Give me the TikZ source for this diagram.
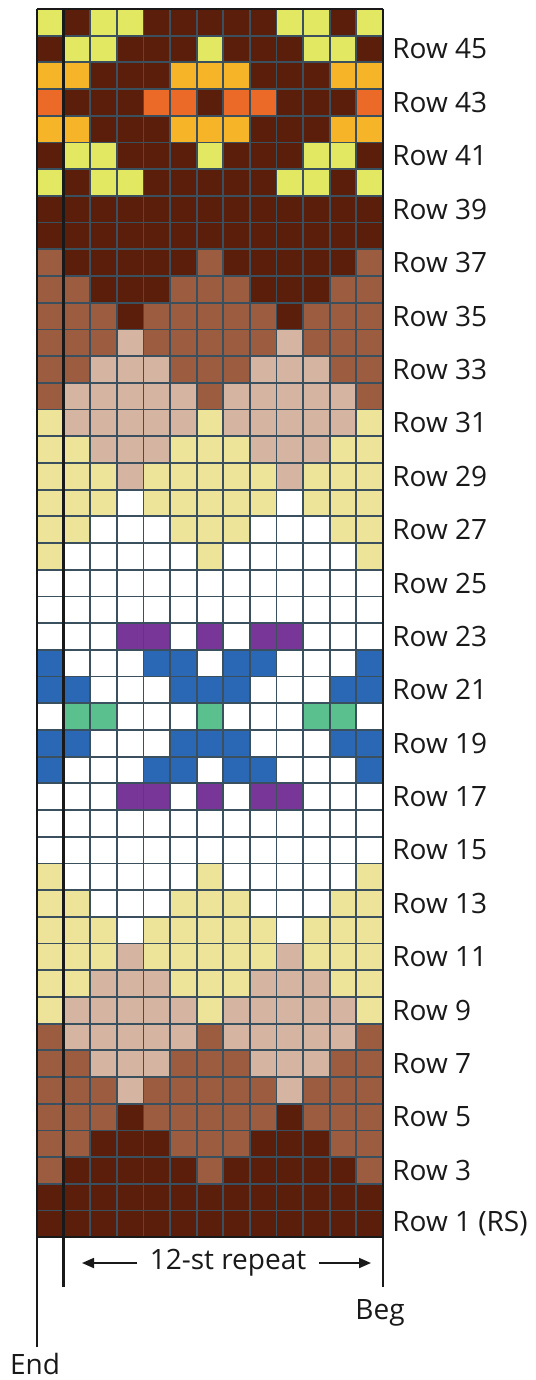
\documentclass[tikz,border=0pt]{standalone}
\usepackage{fontspec}
\setmainfont{Open Sans}
\usetikzlibrary{arrows.meta}
\definecolor{cD}{RGB}{90,30,10}
\definecolor{cM}{RGB}{156,92,64}
\definecolor{cT}{RGB}{214,180,162}
\definecolor{cP}{RGB}{237,228,154}
\definecolor{cY}{RGB}{226,232,98}
\definecolor{cO}{RGB}{246,180,40}
\definecolor{cR}{RGB}{236,106,40}
\definecolor{cV}{RGB}{120,54,152}
\definecolor{cB}{RGB}{42,103,181}
\definecolor{cG}{RGB}{90,192,142}
\definecolor{cW}{RGB}{255,255,255}
\definecolor{gridc}{RGB}{58,80,94}
\begin{document}
\begin{tikzpicture}[x=0.5pt,y=-0.5pt,
  gridline/.style={gridc,line width=0.9pt},
  border/.style={black!90,line width=1.2pt},
  lab/.style={font=\fontsize{14}{16}\selectfont,text=black!90,inner sep=0pt},
  rowlab/.style={lab,anchor=west},
  arr/.style={black!90,line width=0.9pt,-{Triangle[length=6pt,width=5pt]}}]
\fill[white] (0,0) rectangle (535,1380);
\useasboundingbox (0,0) rectangle (535,1380);
% cells, rows from top (row 46) to bottom (row 1)
\foreach \row [count=\k from 0] in {
 {Y,D,Y,Y,D,D,D,D,D,Y,Y,D,Y},
 {D,Y,Y,D,D,D,Y,D,D,D,Y,Y,D},
 {O,O,D,D,D,O,O,O,D,D,D,O,O},
 {R,D,D,D,R,R,D,R,R,D,D,D,R},
 {O,O,D,D,D,O,O,O,D,D,D,O,O},
 {D,Y,Y,D,D,D,Y,D,D,D,Y,Y,D},
 {Y,D,Y,Y,D,D,D,D,D,Y,Y,D,Y},
 {D,D,D,D,D,D,D,D,D,D,D,D,D},
 {D,D,D,D,D,D,D,D,D,D,D,D,D},
 {M,D,D,D,D,D,M,D,D,D,D,D,M},
 {M,M,D,D,D,M,M,M,D,D,D,M,M},
 {M,M,M,D,M,M,M,M,M,D,M,M,M},
 {M,M,M,T,M,M,M,M,M,T,M,M,M},
 {M,M,T,T,T,M,M,M,T,T,T,M,M},
 {M,T,T,T,T,T,M,T,T,T,T,T,M},
 {P,T,T,T,T,T,P,T,T,T,T,T,P},
 {P,P,T,T,T,P,P,P,T,T,T,P,P},
 {P,P,P,T,P,P,P,P,P,T,P,P,P},
 {P,P,P,W,P,P,P,P,P,W,P,P,P},
 {P,P,W,W,W,P,P,P,W,W,W,P,P},
 {P,W,W,W,W,W,P,W,W,W,W,W,P},
 {W,W,W,W,W,W,W,W,W,W,W,W,W},
 {W,W,W,W,W,W,W,W,W,W,W,W,W},
 {W,W,W,V,V,W,V,W,V,V,W,W,W},
 {B,W,W,W,B,B,W,B,B,W,W,W,B},
 {B,B,W,W,W,B,B,B,W,W,W,B,B},
 {W,G,G,W,W,W,G,W,W,W,G,G,W},
 {B,B,W,W,W,B,B,B,W,W,W,B,B},
 {B,W,W,W,B,B,W,B,B,W,W,W,B},
 {W,W,W,V,V,W,V,W,V,V,W,W,W},
 {W,W,W,W,W,W,W,W,W,W,W,W,W},
 {W,W,W,W,W,W,W,W,W,W,W,W,W},
 {P,W,W,W,W,W,P,W,W,W,W,W,P},
 {P,P,W,W,W,P,P,P,W,W,W,P,P},
 {P,P,P,W,P,P,P,P,P,W,P,P,P},
 {P,P,P,T,P,P,P,P,P,T,P,P,P},
 {P,P,T,T,T,P,P,P,T,T,T,P,P},
 {P,T,T,T,T,T,P,T,T,T,T,T,P},
 {M,T,T,T,T,T,M,T,T,T,T,T,M},
 {M,M,T,T,T,M,M,M,T,T,T,M,M},
 {M,M,M,T,M,M,M,M,M,T,M,M,M},
 {M,M,M,D,M,M,M,M,M,D,M,M,M},
 {M,M,D,D,D,M,M,M,D,D,D,M,M},
 {M,D,D,D,D,D,M,D,D,D,D,D,M},
 {D,D,D,D,D,D,D,D,D,D,D,D,D},
 {D,D,D,D,D,D,D,D,D,D,D,D,D}}
 {\foreach \c [count=\i from 0] in \row
   {\fill[c\c] (37+\i*26.6,9+\k*26.7) rectangle ++(26.6,26.7);}}
% grid
\foreach \i in {2,...,12} \draw[gridline] (37+\i*26.6,9) -- (37+\i*26.6,1237.2);
\foreach \j in {1,...,45} \draw[gridline] (37,9+\j*26.7) -- (382.8,9+\j*26.7);
% frame and repeat lines
\coordinate (tl) at (37,9);
\coordinate (tr) at (382.8,9);
\coordinate (bl) at (37,1237.2);
\coordinate (br) at (382.8,1237.2);
\coordinate (ti) at (63.6,9);
\coordinate (endbot) at (37,1347);
\coordinate (repbot) at (63.6,1287);
\coordinate (begbot) at (382.8,1287);
\draw[border] (tl) -- (tr);
\draw[border] (bl) -- (br);
\draw[border] (tl) -- (endbot);
\draw[border] (ti) -- (repbot);
\draw[border] (tr) -- (begbot);
% row labels
\foreach \n in {3,5,...,45}
  \node[rowlab] (r\n) at (392,{9+(46-\n+0.5)*26.7}) {Row \n};
\node[rowlab] (r1) at (392,{9+45.5*26.7}) {Row 1 (RS)};
% repeat label
\node[lab,inner xsep=6pt] (rep) at (228,1263) {12-st repeat};
\coordinate (la) at (82,1263);
\coordinate (ra) at (371,1263);
\draw[arr] (rep.west) -- (la);
\draw[arr] (rep.east) -- (ra);
\node[lab] (beg) at (380,1313) {Beg};
\node[lab] (end) at (35,1364) {End};
\end{tikzpicture}
\end{document}
